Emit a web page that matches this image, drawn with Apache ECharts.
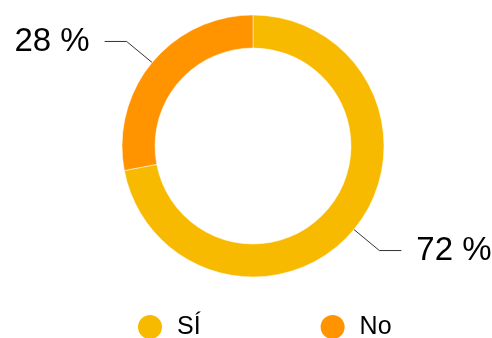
<!DOCTYPE html>
<html>
<head>
<meta charset="utf-8">
<script src="https://cdn.jsdelivr.net/npm/echarts@6/dist/echarts.min.js"></script>
<style>
  html, body { margin: 0; padding: 0; background: #fff; }
  #chart { width: 492px; height: 338px; }
</style>
</head>
<body>
<div id="chart"></div>
<script>
const categories = ['SÍ', 'No']
const values = [72, 28]
const colors = ['#F8BA00', '#FF9300']

const chart = echarts.init(document.getElementById('chart'))

const option = {
  animation: false,
  color: colors,
  legend: {
    data: categories,
    left: 131,
    top: 308,
    icon: 'circle',
    itemWidth: 26,
    itemHeight: 26,
    itemGap: 118,
    textStyle: {
      fontFamily: 'Liberation Sans, Arial, sans-serif',
      fontSize: 25,
      color: '#000',
      padding: [0, 0, 0, 9]
    }
  },
  series: [{
    type: 'pie',
    center: [253, 146],
    radius: [98, 131],
    startAngle: 90,
    clockwise: true,
    data: categories.map((name, i) => ({ name, value: values[i] })),
    itemStyle: { borderColor: '#fff', borderWidth: 0.5 },
    label: {
      formatter: '{d} %',
      fontFamily: 'Liberation Sans, Arial, sans-serif',
      fontSize: 33,
      color: '#000',
      overflow: 'none',
      distanceToLabelLine: 15
    },
    labelLine: {
      length: 33,
      length2: 22,
      lineStyle: { color: '#333', width: 1 }
    },
    emphasis: { disabled: true }
  }]
}

chart.setOption(option)
window.addEventListener('resize', () => chart.resize())
</script>
</body>
</html>
